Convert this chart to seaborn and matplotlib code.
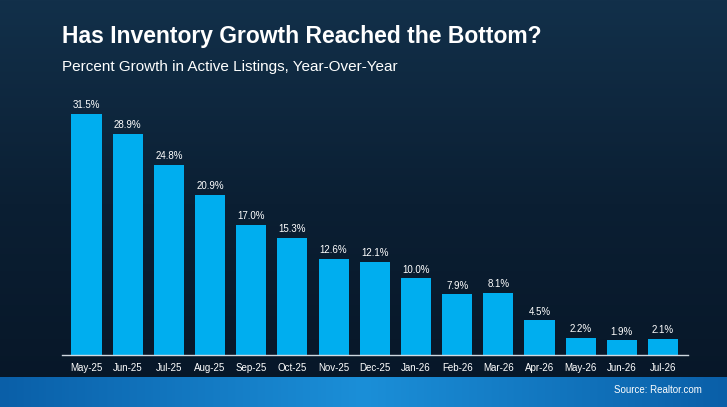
import matplotlib
matplotlib.use("Agg")
import matplotlib.pyplot as plt
import numpy as np
import pandas as pd
import seaborn as sns

months = ["May-25", "Jun-25", "Jul-25", "Aug-25", "Sep-25", "Oct-25", "Nov-25", "Dec-25",
          "Jan-26", "Feb-26", "Mar-26", "Apr-26", "May-26", "Jun-26", "Jul-26"]
growth = [31.5, 28.9, 24.8, 20.9, 17.0, 15.3, 12.6, 12.1, 10.0, 7.9, 8.1, 4.5, 2.2, 1.9, 2.1]

sns.set_theme(style="white")
plt.rcParams["font.family"] = ["Liberation Sans", "DejaVu Sans"]

fig = plt.figure(figsize=(7.27, 4.07), dpi=100)

# background gradient
bg = fig.add_axes([0, 0, 1, 1])
grad = np.linspace(0, 1, 256).reshape(-1, 1)
bg.imshow(grad, aspect="auto", cmap=matplotlib.colors.LinearSegmentedColormap.from_list(
    "bg", ["#12304a", "#0b1f33", "#071627"]), extent=[0, 1, 0, 1])
strip = np.linspace(0, 1, 256).reshape(1, -1)
bg.imshow(strip, aspect="auto", cmap=matplotlib.colors.LinearSegmentedColormap.from_list(
    "st", ["#0a5fa8", "#1b8fd8", "#0a5fa8"]), extent=[0, 1, 0, 29 / 407])
bg.set_xlim(0, 1)
bg.set_ylim(0, 1)
bg.axis("off")

fig.text(0.085, 0.895, "Has Inventory Growth Reached the Bottom?", color="white",
         fontsize=16.5, fontweight="bold")
fig.text(0.085, 0.825, "Percent Growth in Active Listings, Year-Over-Year", color="white",
         fontsize=11)
fig.text(0.965, 0.035, "Source: Realtor.com", color="white", fontsize=7, ha="right")

ax = fig.add_axes([0.085, 0.128, 0.861, 0.626])
df = pd.DataFrame({"month": months, "growth": growth})
sns.barplot(data=df, x="month", y="growth", color="#00aeef", saturation=1, width=0.73,
            linewidth=0, edgecolor="none", ax=ax)
ax.set_facecolor("none")
ax.set_ylim(0, 33.3)
ax.set_xlim(-0.6, len(months) - 0.4)
for i, v in enumerate(growth):
    ax.text(i, v + 0.5, f"{v:.1f}%", color="white", ha="center", va="bottom", fontsize=7)
ax.set_xlabel("")
ax.set_ylabel("")
ax.set_yticks([])
ax.tick_params(axis="x", colors="white", labelsize=7, length=0, pad=6)
for s in ["top", "right", "left"]:
    ax.spines[s].set_visible(False)
ax.spines["bottom"].set_color("#cfd8e0")
ax.spines["bottom"].set_linewidth(1)

fig.savefig("out.png", dpi=100)
